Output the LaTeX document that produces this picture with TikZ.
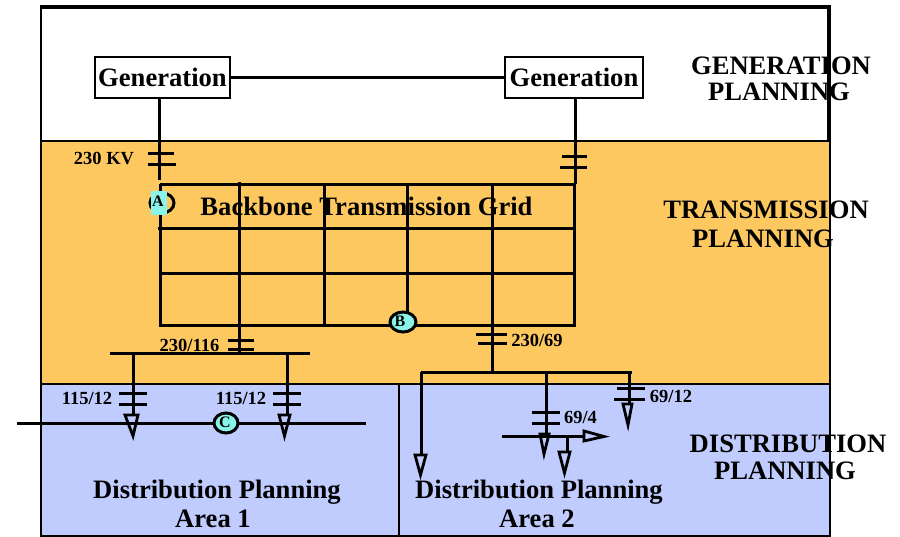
\documentclass[tikz,border=0pt]{standalone}
\usepackage{fontspec}
\setmainfont{Liberation Serif}
\definecolor{orangeband}{RGB}{254,200,97}
\definecolor{blueband}{RGB}{192,204,254}
\definecolor{cyanmark}{RGB}{138,244,232}
\begin{document}
\begin{tikzpicture}[x=1pt,y=-1pt,
  wire/.style={line width=3pt,black},
  thinwire/.style={line width=2.2pt,black},
  band/.style={draw=black,line width=2.9pt},
  genbox/.style={draw=black,line width=2.6pt,fill=white,minimum height=41pt,inner sep=0pt,font=\fontsize{26.6}{26.6}\selectfont\bfseries},
  title/.style={inner sep=0pt,font=\fontsize{26.6}{26.6}\selectfont\bfseries},
  small/.style={inner sep=0pt,font=\fontsize{18.5}{18.5}\selectfont\bfseries},
  letter/.style={inner sep=0pt,font=\fontsize{16}{16}\selectfont\bfseries},
  load/.style={draw=black,line width=2.8pt,fill=none,line join=miter}]
\useasboundingbox (0,0) rectangle (900,536);
% bands
\path[band,fill=white] (41,7) rectangle (829,141);
\draw[line width=4.5pt] (40,7) -- (829,7) -- (829,141);
\path[band,fill=orangeband] (41,141) rectangle (830,384);
\path[band,fill=blueband] (41,384) rectangle (830,536);
\draw[band] (399,384) -- (399,536);
% generation
\node[genbox,minimum width=135pt] (g1) at (162.5,77.5) {\raisebox{-1.5pt}{Generation}};
\node[genbox,minimum width=138pt] (g2) at (574,77.5) {\raisebox{-1.5pt}{Generation}};
\draw[thinwire] (g1) -- (g2);
\coordinate (a1) at (159,180);
\coordinate (a2) at (575,184);
\draw[wire] (159,98) -- (a1);
\draw[wire] (575,98) -- (a2);
\draw[wire] (148,153) -- (174,153);
\draw[wire] (148,164) -- (176,164);
\draw[wire] (562,156) -- (587,156);
\draw[wire] (560,167) -- (587,167);
% grid
\draw[wire] (160,184) -- (575,184);
\draw[wire] (160,184) -- (160,325) -- (574,325) -- (574,184);
\draw[wire] (158,228) -- (576,228);
\draw[wire] (160,273) -- (576,273);
\draw[wire] (239,182) -- (239,353);
\draw[wire] (324,184) -- (324,325);
\draw[wire] (407,184) -- (407,325);
\draw[wire] (492,184) -- (492,372);
% 230/116
\draw[wire] (110,353) -- (310,353);
\draw[wire] (228,340) -- (254,340);
\draw[wire] (228,349) -- (254,349);
\draw[wire] (133,353) -- (133,416);
\draw[wire] (287,353) -- (287,416);
\draw[wire] (119,393) -- (147,393);
\draw[wire] (119,404) -- (147,404);
\draw[wire] (273,393) -- (301,393);
\draw[wire] (273,404) -- (301,404);
\draw[wire] (17,423) -- (366,423);
\draw[load] (125,415) -- (138,415) -- (133,436) -- cycle;
\draw[load] (279,415) -- (290,415) -- (284.5,436) -- cycle;
% 230/69
\draw[wire] (476,334) -- (507,334);
\draw[wire] (478,343) -- (507,343);
\draw[wire] (421,372) -- (632,372);
\draw[wire] (421,372) -- (421,455);
\draw[load] (415,455) -- (426,455) -- (420.5,475) -- cycle;
\draw[wire] (546,372) -- (546,436);
\draw[wire] (532,412) -- (560,412);
\draw[wire] (532,423) -- (560,423);
\draw[wire] (629,372) -- (629,404);
\draw[wire] (617,388) -- (645,388);
\draw[wire] (614,399) -- (645,399);
\draw[load] (623,404) -- (632,404) -- (628,425) -- cycle;
\draw[wire] (502,436) -- (584,436);
\draw[load] (584,431) -- (604,436.5) -- (584,441) -- cycle;
\draw[load] (540,434) -- (549,434) -- (544,454) -- cycle;
\draw[wire] (567,436) -- (567,452);
\draw[load] (559,452) -- (570,452) -- (564.5,473) -- cycle;
% markers
\draw[wire,fill=none] (162,203) ellipse [x radius=12,y radius=10];
\fill[cyanmark] (151,191) rectangle (167,215);
\node[letter] (ma) at (158,201) {A};
\draw[wire,fill=cyanmark] (403,322) ellipse [x radius=13,y radius=10];
\node[letter] (mb) at (400,321) {B};
\draw[wire,fill=cyanmark] (226,423) ellipse [x radius=12,y radius=10];
\node[letter] (mc) at (225,422) {C};
% labels
\node[title] (t0) at (366.5,206.5) {Backbone Transmission Grid};
\node[small] (l1) at (104,158) {230 KV};
\node[small] (l2) at (189.5,345) {230/116};
\node[small] (l3) at (537,340) {230/69};
\node[small] (l4) at (87,398) {115/12};
\node[small] (l5) at (241,398) {115/12};
\node[small] (l6) at (580.5,417) {69/4};
\node[small] (l7) at (671,396) {69/12};
\node[title] (p1) at (781,65.5) {GENERATION};
\node[title] (p1b) at (779,92) {PLANNING};
\node[title] (p2) at (766,209.5) {TRANSMISSION};
\node[title] (p2b) at (763,239) {PLANNING};
\node[title] (p3) at (788,443.5) {DISTRIBUTION};
\node[title] (p3b) at (785,471) {PLANNING};
\node[title] (d1) at (217,492) {Distribution Planning};
\node[title] (d1b) at (213,519) {Area 1};
\node[title] (d2) at (539,492) {Distribution Planning};
\node[title] (d2b) at (537,519) {Area 2};
\end{tikzpicture}
\end{document}
